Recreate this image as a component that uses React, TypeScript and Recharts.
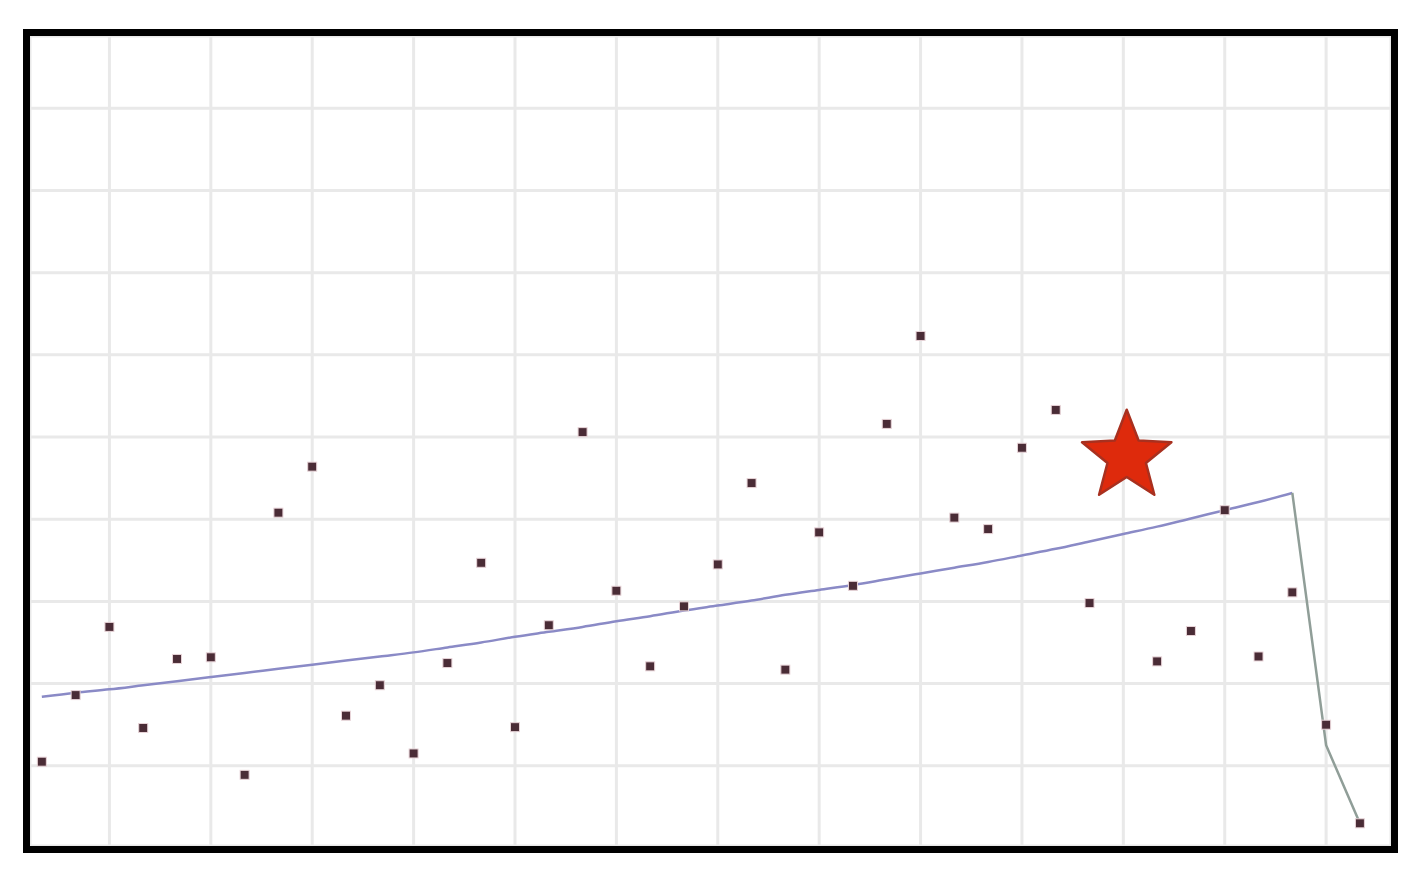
import {
  CartesianGrid,
  ComposedChart,
  Line,
  Scatter,
  XAxis,
  YAxis,
} from "recharts";

// sample index along the x axis, one per measurement
const sampleIndex = Array.from({ length: 40 }, (_, i) => i);

// measured points (index 32 is the highlighted star)
const pointValues = [
  10.5, 18.6, 26.9, 14.6, 23.0, 23.2, 8.9, 40.8, 46.4, 16.1,
  19.8, 11.5, 22.5, 34.7, 14.7, 27.1, 50.6, 31.3, 22.1, 29.4,
  34.5, 44.4, 21.7, 38.4, 31.9, 51.6, 62.3, 40.2, 38.8, 48.7,
  53.3, 29.8, null, 22.7, 26.4, 41.1, 23.3, 31.1, 15.0, 3.0,
];

const starIndex = 32.1;
const starValue = 47.6;

// fitted trend up to index 37
const trendValues = [
  18.4, 18.9, 19.3, 19.8, 20.3, 20.8, 21.3, 21.8, 22.3, 22.8,
  23.3, 23.8, 24.4, 25.0, 25.7, 26.3, 26.9, 27.6, 28.2, 28.9,
  29.5, 30.1, 30.8, 31.4, 32.0, 32.7, 33.4, 34.1, 34.8, 35.6,
  36.4, 37.3, 38.2, 39.1, 40.1, 41.1, 42.1, 43.2,
];

// falloff after the trend ends
const dropIndex = [37, 38, 39];
const dropValues = [43.2, 12.5, 3.0];

const xTicks = [2, 5, 8, 11, 14, 17, 20, 23, 26, 29, 32, 35, 38];
const yTicks = [10, 20, 30, 40, 50, 60, 70, 80, 90];

const rows = sampleIndex.map((x, i) => {
  const d = dropIndex.indexOf(x);
  return {
    x,
    trend: i < trendValues.length ? trendValues[i] : null,
    drop: d >= 0 ? dropValues[d] : null,
  };
});

const dots = sampleIndex
  .map((x, i) => ({ x, y: pointValues[i] }))
  .filter((p) => p.y !== null);

const star = [{ x: starIndex, y: starValue }];

const DotShape = (props: any) => {
  const { cx, cy } = props;
  return (
    <rect
      x={cx - 4.5}
      y={cy - 4.5}
      width={9}
      height={9}
      fill="#4a2c36"
      stroke="#e8d4d8"
      strokeWidth={1}
    />
  );
};

const StarShape = (props: any) => {
  const { cx, cy } = props;
  const R = 47;
  const r = R * 0.43;
  const pts: string[] = [];
  for (let k = 0; k < 10; k++) {
    const rad = k % 2 === 0 ? R : r;
    const a = -Math.PI / 2 + (k * Math.PI) / 5;
    pts.push(`${cx + rad * Math.cos(a)},${cy + rad * Math.sin(a)}`);
  }
  return (
    <polygon
      points={pts.join(" ")}
      fill="#de2a0c"
      stroke="#a8301f"
      strokeWidth={2.5}
      strokeLinejoin="round"
    />
  );
};

export default function App() {
  return (
    <div
      style={{
        position: "absolute",
        left: 23,
        top: 29,
        width: 1375,
        height: 824,
        border: "7px solid #000",
        boxSizing: "border-box",
        overflow: "hidden",
        background: "#fff",
      }}
    >
      <ComposedChart
        width={1361}
        height={810}
        data={rows}
        margin={{ top: 0, right: 0, bottom: 0, left: 0 }}
      >
        <CartesianGrid stroke="#e9e9e9" strokeWidth={3} />
        <XAxis
          dataKey="x"
          type="number"
          domain={[-0.35, 39.92]}
          ticks={xTicks}
          allowDataOverflow
          hide
        />
        <YAxis
          type="number"
          domain={[0.24, 98.8]}
          ticks={yTicks}
          allowDataOverflow
          hide
        />
        <Line
          dataKey="trend"
          type="monotone"
          stroke="#8a8ac6"
          strokeWidth={2.5}
          dot={false}
          activeDot={false}
          isAnimationActive={false}
        />
        <Line
          dataKey="drop"
          type="linear"
          stroke="#909e98"
          strokeWidth={2.5}
          dot={false}
          activeDot={false}
          isAnimationActive={false}
        />
        <Scatter
          data={dots}
          dataKey="y"
          shape={DotShape}
          isAnimationActive={false}
        />
        <Scatter
          data={star}
          dataKey="y"
          shape={StarShape}
          isAnimationActive={false}
        />
      </ComposedChart>
    </div>
  );
}
